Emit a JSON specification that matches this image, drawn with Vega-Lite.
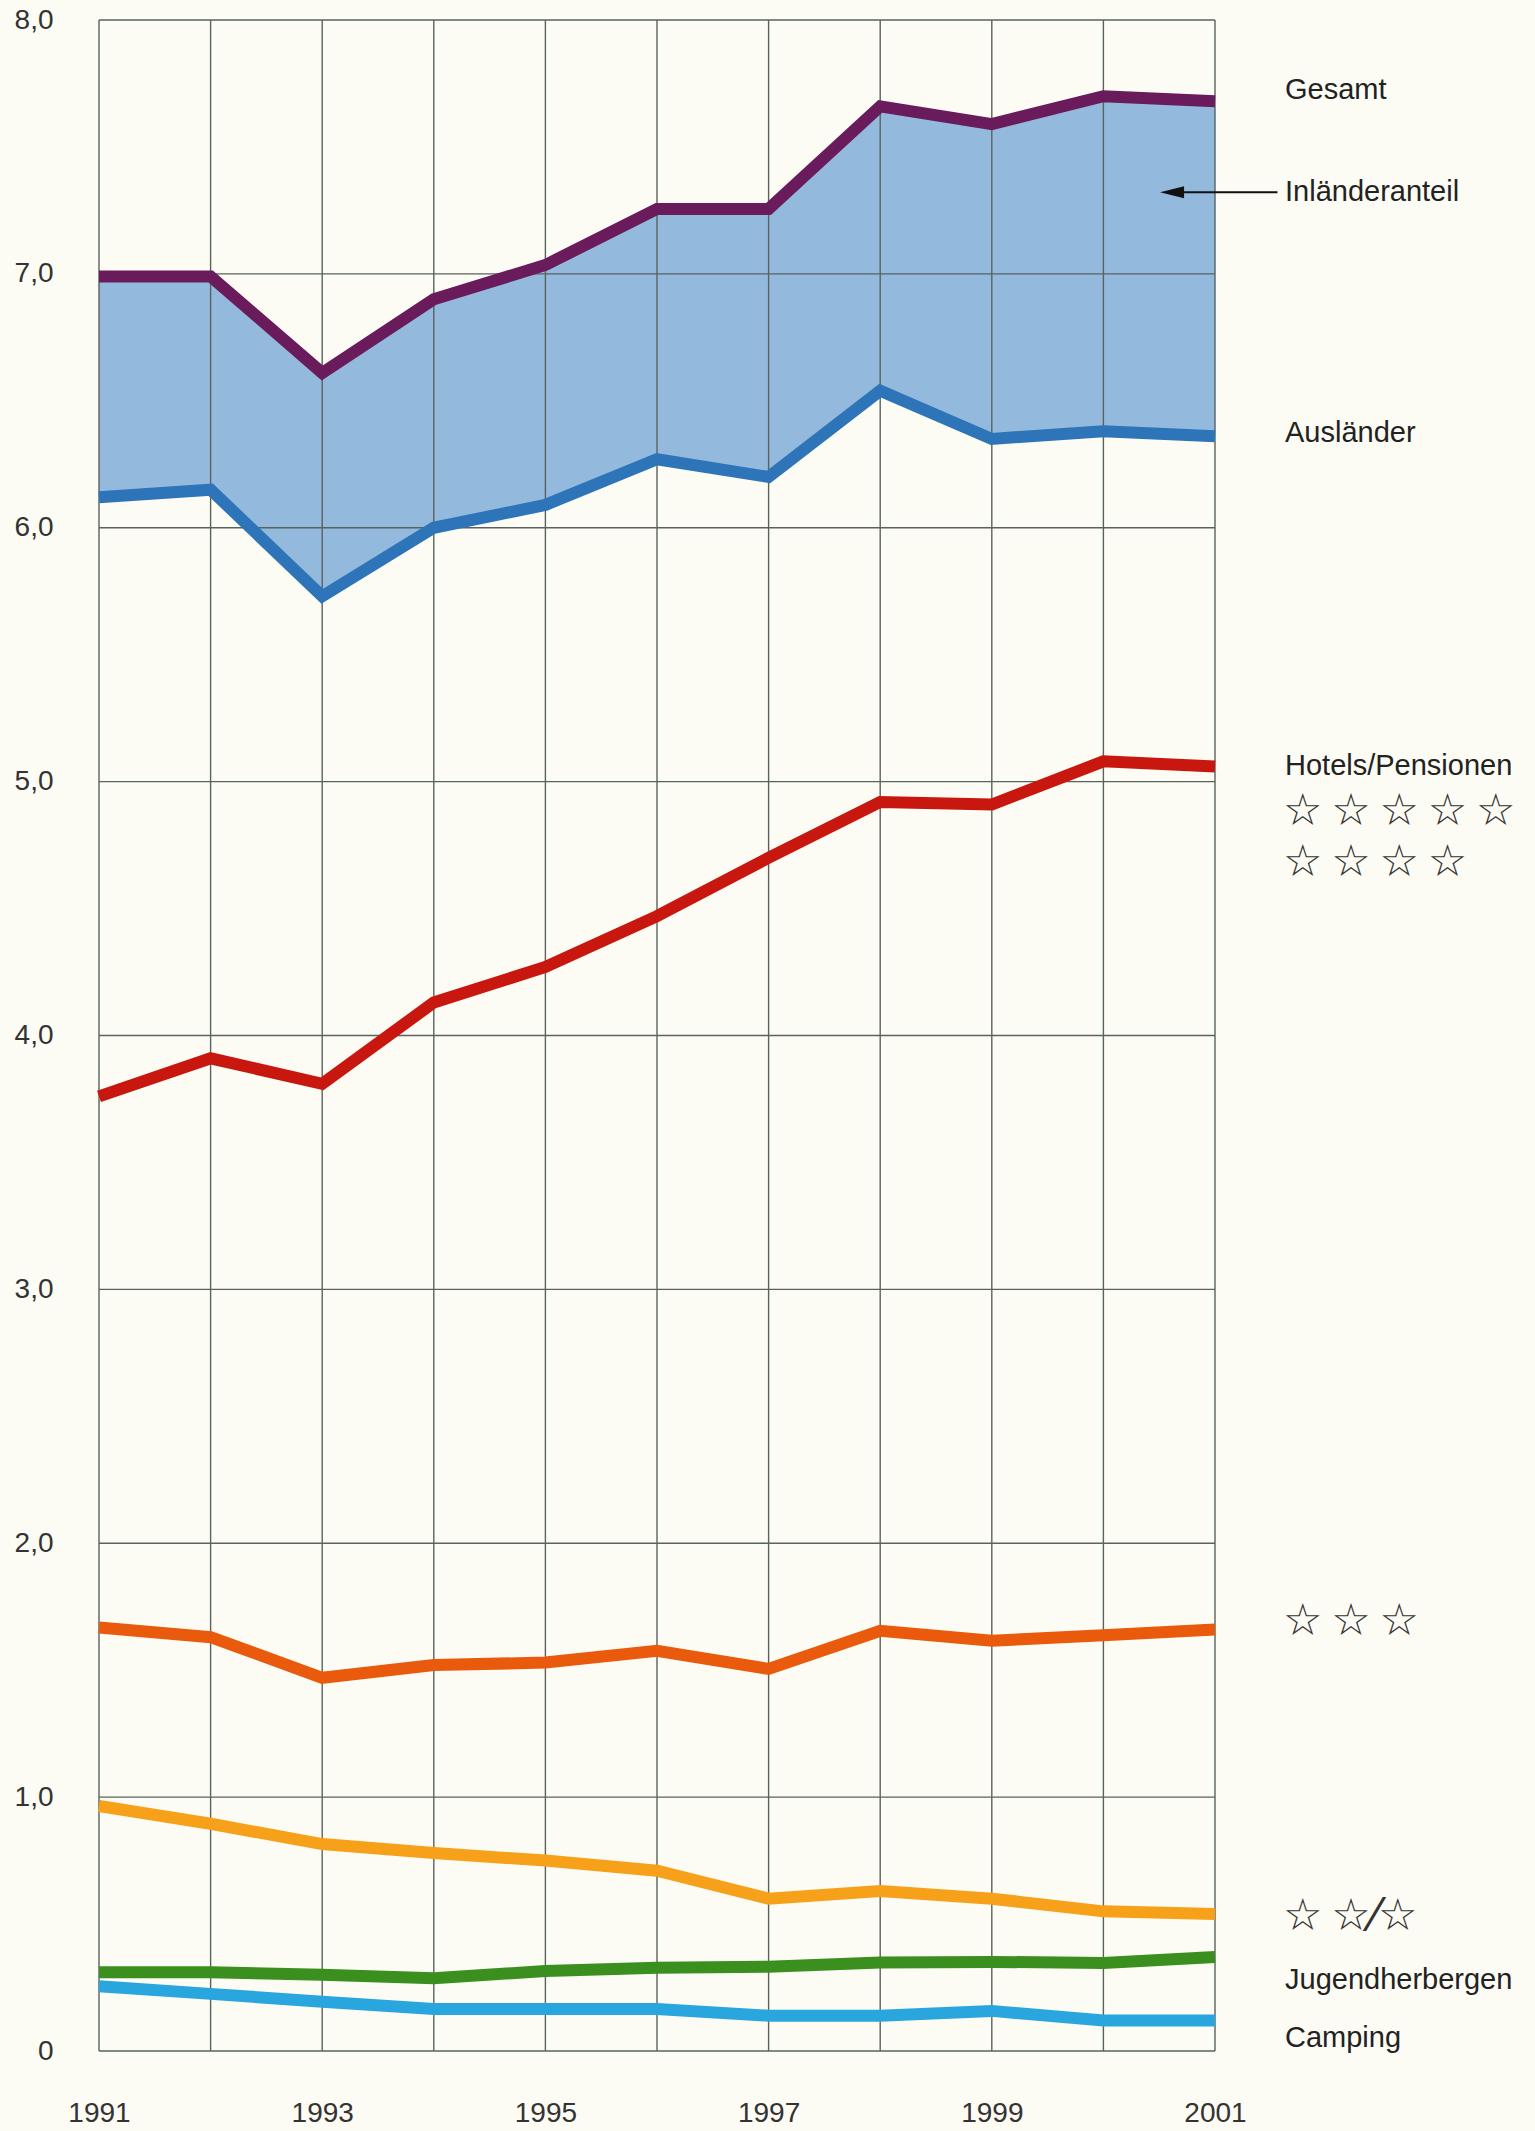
{
  "$schema": "https://vega.github.io/schema/vega-lite/v6.json",
  "width": 1116,
  "height": 2031,
  "autosize": {"type": "none"},
  "padding": {"left": 99, "top": 20, "right": 320, "bottom": 80},
  "background": "#fcfcf4",
  "config": {
    "view": {"stroke": null},
    "font": "Liberation Sans"
  },
  "datasets": {
    "nights": [
      {"year": 1991, "gesamt": 6.99, "auslaender": 6.12},
      {"year": 1992, "gesamt": 6.99, "auslaender": 6.15},
      {"year": 1993, "gesamt": 6.61, "auslaender": 5.73},
      {"year": 1994, "gesamt": 6.90, "auslaender": 6.00},
      {"year": 1995, "gesamt": 7.035, "auslaender": 6.09},
      {"year": 1996, "gesamt": 7.256, "auslaender": 6.27},
      {"year": 1997, "gesamt": 7.256, "auslaender": 6.20},
      {"year": 1998, "gesamt": 7.66, "auslaender": 6.54},
      {"year": 1999, "gesamt": 7.59, "auslaender": 6.35},
      {"year": 2000, "gesamt": 7.70, "auslaender": 6.38},
      {"year": 2001, "gesamt": 7.68, "auslaender": 6.36}
    ],
    "types": [
      {"year": 1991, "type": "Hotels 5/4", "value": 3.76},
      {"year": 1992, "type": "Hotels 5/4", "value": 3.91},
      {"year": 1993, "type": "Hotels 5/4", "value": 3.81},
      {"year": 1994, "type": "Hotels 5/4", "value": 4.13},
      {"year": 1995, "type": "Hotels 5/4", "value": 4.27},
      {"year": 1996, "type": "Hotels 5/4", "value": 4.47},
      {"year": 1997, "type": "Hotels 5/4", "value": 4.70},
      {"year": 1998, "type": "Hotels 5/4", "value": 4.92},
      {"year": 1999, "type": "Hotels 5/4", "value": 4.91},
      {"year": 2000, "type": "Hotels 5/4", "value": 5.08},
      {"year": 2001, "type": "Hotels 5/4", "value": 5.06},
      {"year": 1991, "type": "Hotels 3", "value": 1.668},
      {"year": 1992, "type": "Hotels 3", "value": 1.63},
      {"year": 1993, "type": "Hotels 3", "value": 1.47},
      {"year": 1994, "type": "Hotels 3", "value": 1.52},
      {"year": 1995, "type": "Hotels 3", "value": 1.53},
      {"year": 1996, "type": "Hotels 3", "value": 1.576},
      {"year": 1997, "type": "Hotels 3", "value": 1.505},
      {"year": 1998, "type": "Hotels 3", "value": 1.655},
      {"year": 1999, "type": "Hotels 3", "value": 1.616},
      {"year": 2000, "type": "Hotels 3", "value": 1.638},
      {"year": 2001, "type": "Hotels 3", "value": 1.66},
      {"year": 1991, "type": "Hotels 2/1", "value": 0.965},
      {"year": 1992, "type": "Hotels 2/1", "value": 0.895},
      {"year": 1993, "type": "Hotels 2/1", "value": 0.815},
      {"year": 1994, "type": "Hotels 2/1", "value": 0.78},
      {"year": 1995, "type": "Hotels 2/1", "value": 0.75},
      {"year": 1996, "type": "Hotels 2/1", "value": 0.71},
      {"year": 1997, "type": "Hotels 2/1", "value": 0.60},
      {"year": 1998, "type": "Hotels 2/1", "value": 0.63},
      {"year": 1999, "type": "Hotels 2/1", "value": 0.60},
      {"year": 2000, "type": "Hotels 2/1", "value": 0.55},
      {"year": 2001, "type": "Hotels 2/1", "value": 0.54},
      {"year": 1991, "type": "Jugendherbergen", "value": 0.31},
      {"year": 1992, "type": "Jugendherbergen", "value": 0.31},
      {"year": 1993, "type": "Jugendherbergen", "value": 0.30},
      {"year": 1994, "type": "Jugendherbergen", "value": 0.287},
      {"year": 1995, "type": "Jugendherbergen", "value": 0.315},
      {"year": 1996, "type": "Jugendherbergen", "value": 0.328},
      {"year": 1997, "type": "Jugendherbergen", "value": 0.332},
      {"year": 1998, "type": "Jugendherbergen", "value": 0.349},
      {"year": 1999, "type": "Jugendherbergen", "value": 0.351},
      {"year": 2000, "type": "Jugendherbergen", "value": 0.347},
      {"year": 2001, "type": "Jugendherbergen", "value": 0.37},
      {"year": 1991, "type": "Camping", "value": 0.255},
      {"year": 1992, "type": "Camping", "value": 0.225},
      {"year": 1993, "type": "Camping", "value": 0.194},
      {"year": 1994, "type": "Camping", "value": 0.165},
      {"year": 1995, "type": "Camping", "value": 0.165},
      {"year": 1996, "type": "Camping", "value": 0.165},
      {"year": 1997, "type": "Camping", "value": 0.139},
      {"year": 1998, "type": "Camping", "value": 0.139},
      {"year": 1999, "type": "Camping", "value": 0.158},
      {"year": 2000, "type": "Camping", "value": 0.12},
      {"year": 2001, "type": "Camping", "value": 0.12}
    ],
    "levels": [
      {"level": 0}, {"level": 1}, {"level": 2}, {"level": 3}, {"level": 4},
      {"level": 5}, {"level": 6}, {"level": 7}, {"level": 8}
    ],
    "labels": [
      {"label": "Gesamt", "level": 7.724},
      {"label": "Inländeranteil", "level": 7.322},
      {"label": "Ausländer", "level": 6.373},
      {"label": "Hotels/Pensionen", "level": 5.062},
      {"label": "Jugendherbergen", "level": 0.28},
      {"label": "Camping", "level": 0.051}
    ],
    "stars": [
      {"label": "\u2606\u2009\u2606\u2009\u2606\u2009\u2606\u2009\u2606\n\u2606\u2009\u2606\u2009\u2606\u2009\u2606", "level": 4.88},
      {"label": "\u2606\u2009\u2606\u2009\u2606", "level": 1.69},
      {"label": "\u2606\u2009\u2606\u2044\u2606", "level": 0.528}
    ]
  },
  "layer": [
    {
      "data": {"name": "nights"},
      "mark": {"type": "area", "color": "#93badd", "opacity": 1},
      "encoding": {
        "x": {
          "field": "year",
          "type": "quantitative",
          "scale": {"domain": [1991, 2001], "nice": false, "zero": false},
          "axis": {
            "title": null,
            "values": [1991, 1992, 1993, 1994, 1995, 1996, 1997, 1998, 1999, 2000, 2001],
            "labelExpr": "datum.value % 2 == 1 ? toString(datum.value) : ''",
            "grid": false,
            "domain": false,
            "ticks": false,
            "labelPadding": 48,
            "labelFontSize": 28,
            "labelColor": "#333333",
            "labelFlush": false
          }
        },
        "y": {
          "field": "auslaender",
          "type": "quantitative",
          "scale": {"domain": [0, 8], "nice": false},
          "axis": {
            "title": null,
            "values": [0, 1, 2, 3, 4, 5, 6, 7, 8],
            "labelExpr": "datum.value == 0 ? '0' : replace(format(datum.value, '.1f'), '.', ',')",
            "grid": false,
            "domain": false,
            "ticks": false,
            "labelPadding": 46,
            "labelFontSize": 28,
            "labelColor": "#333333",
            "labelFlush": false
          }
        },
        "y2": {"field": "gesamt"}
      }
    },
    {
      "data": {"name": "nights"},
      "mark": {"type": "rule", "color": "#59635e", "strokeWidth": 1.4},
      "encoding": {"x": {"field": "year", "type": "quantitative"}}
    },
    {
      "data": {"name": "levels"},
      "mark": {"type": "rule", "color": "#59635e", "strokeWidth": 1.4},
      "encoding": {"y": {"field": "level", "type": "quantitative"}}
    },
    {
      "data": {"name": "nights"},
      "mark": {"type": "line", "color": "#2e74b8", "strokeWidth": 12, "strokeJoin": "miter"},
      "encoding": {
        "x": {"field": "year", "type": "quantitative"},
        "y": {"field": "auslaender", "type": "quantitative"}
      }
    },
    {
      "data": {"name": "nights"},
      "mark": {"type": "line", "color": "#6a1b5b", "strokeWidth": 12, "strokeJoin": "miter"},
      "encoding": {
        "x": {"field": "year", "type": "quantitative"},
        "y": {"field": "gesamt", "type": "quantitative"}
      }
    },
    {
      "data": {"name": "types"},
      "mark": {"type": "line", "strokeWidth": 12, "strokeJoin": "miter"},
      "encoding": {
        "x": {"field": "year", "type": "quantitative"},
        "y": {"field": "value", "type": "quantitative"},
        "color": {
          "field": "type",
          "type": "nominal",
          "scale": {
            "domain": ["Hotels 5/4", "Hotels 3", "Hotels 2/1", "Jugendherbergen", "Camping"],
            "range": ["#c8170f", "#ea5a0c", "#f7a11a", "#3a8f1f", "#2aa6df"]
          },
          "legend": null
        }
      }
    },
    {
      "data": {"name": "labels"},
      "mark": {"type": "text", "align": "left", "baseline": "middle", "dx": 70, "fontSize": 29, "color": "#222222"},
      "encoding": {
        "x": {"datum": 2001},
        "y": {"field": "level", "type": "quantitative"},
        "text": {"field": "label"}
      }
    },
    {
      "data": {"name": "stars"},
      "mark": {"type": "text", "align": "left", "baseline": "middle", "dx": 68, "fontSize": 44, "lineHeight": 51, "lineBreak": "\n", "font": "DejaVu Sans", "color": "#333333"},
      "encoding": {
        "x": {"datum": 2001},
        "y": {"field": "level", "type": "quantitative"},
        "text": {"field": "label"}
      }
    },
    {
      "data": {"values": [{}]},
      "mark": {"type": "rule", "color": "#111111", "strokeWidth": 2},
      "encoding": {
        "x": {"datum": 2000.64},
        "x2": {"datum": 2001.56},
        "y": {"datum": 7.322}
      }
    },
    {
      "data": {"values": [{}]},
      "mark": {"type": "point", "shape": "M -1 0 L 1 -0.5 L 1 0.5 Z", "filled": true, "color": "#111111", "size": 576, "opacity": 1},
      "encoding": {
        "x": {"datum": 2000.615},
        "y": {"datum": 7.322}
      }
    }
  ]
}
